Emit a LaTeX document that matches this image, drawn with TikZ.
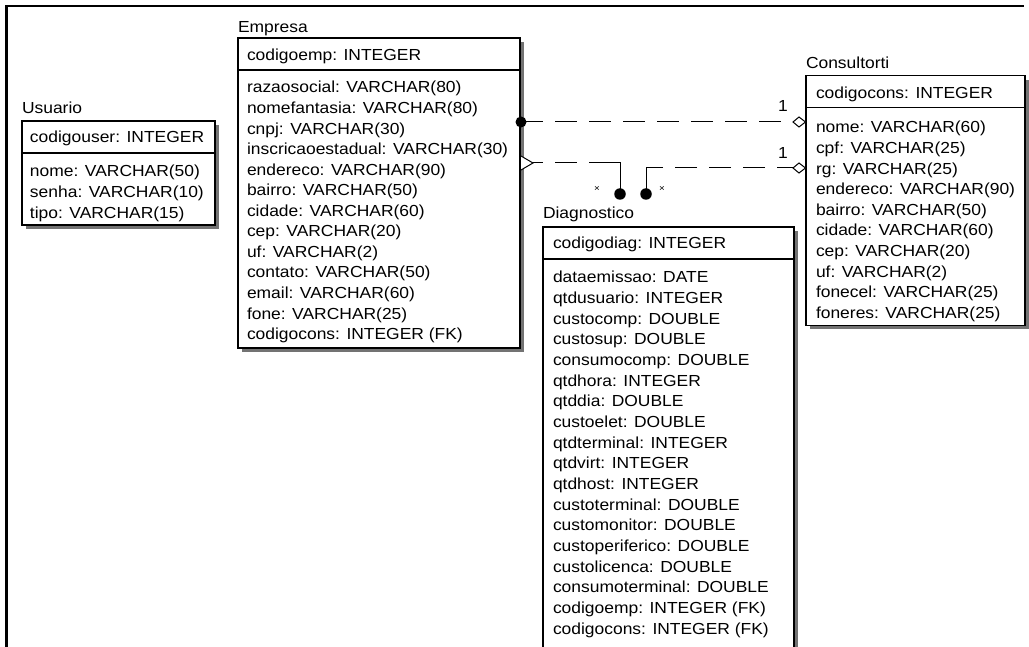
\documentclass[tikz,border=0pt]{standalone}
\usepackage{fontspec}
\setmainfont{Liberation Sans}[FakeStretch=1.09]
\usetikzlibrary{calc}
\begin{document}
\begin{tikzpicture}[x=1pt,y=-1pt,
  every node/.style={inner sep=0pt,outer sep=0pt,font=\fontsize{16}{20}\selectfont},
  tbox/.style={draw=black,line width=1.1pt,fill=white,rectangle,anchor=north west},
  shad/.style={fill=black!55},
  txt/.style={anchor=base west},
  conn/.style={line width=1pt,dash pattern=on 22pt off 12pt},
  solidconn/.style={line width=1pt},
  fdot/.style={circle,fill=black,minimum size=11.5pt},
  mult/.style={font=\fontsize{9}{9}\selectfont,anchor=center}
]
\useasboundingbox (0,0) rectangle (1029,647);
% frame
\draw[line width=2.4pt] (6.5,647) -- (6.5,5.8) -- (1024,5.8);

% ---------- Usuario ----------
\fill[shad] (215,125) rectangle (219,229);
\fill[shad] (26,225) rectangle (219,229);
\node[tbox,minimum width=193pt,minimum height=104pt] (usu) at (22,121) {};
\draw[line width=1.1pt] (22,153) -- (215,153);
\node[txt] (usut) at (22,114) {Usuario};
\node[txt] (usuh) at (30,143) {codigouser: INTEGER};
\foreach \t [count=\i from 0] in {nome: VARCHAR(50),senha: VARCHAR(10),tipo: VARCHAR(15)}
  \node[txt] (usur\i) at (30,177+20.6*\i) {\t};

% ---------- Empresa ----------
\fill[shad] (520,42) rectangle (524,352);
\fill[shad] (242,348) rectangle (524,352);
\node[tbox,minimum width=282pt,minimum height=310pt] (emp) at (238,38) {};
\draw[line width=1.1pt] (238,70) -- (520,70);
\node[txt] (empt) at (238,33) {Empresa};
\node[txt] (emph) at (247,61) {codigoemp: INTEGER};
\foreach \t [count=\i from 0] in {razaosocial: VARCHAR(80),nomefantasia: VARCHAR(80),cnpj: VARCHAR(30),inscricaoestadual: VARCHAR(30),endereco: VARCHAR(90),bairro: VARCHAR(50),cidade: VARCHAR(60),cep: VARCHAR(20),uf: VARCHAR(2),contato: VARCHAR(50),email: VARCHAR(60),fone: VARCHAR(25),codigocons: INTEGER (FK)}
  \node[txt] (empr\i) at (247,93+20.55*\i) {\t};

% ---------- Consultorti ----------
\fill[shad] (1025,80) rectangle (1029,329);
\fill[shad] (810,325) rectangle (1029,329);
\node[tbox,minimum width=219pt,minimum height=250pt] (cons) at (806,75.5) {};
\draw[line width=1.1pt] (806,107.5) -- (1025,107.5);
\node[txt] (const) at (806,69) {Consultorti};
\node[txt] (consh) at (816,99) {codigocons: INTEGER};
\foreach \t [count=\i from 0] in {nome: VARCHAR(60),cpf: VARCHAR(25),rg: VARCHAR(25),endereco: VARCHAR(90),bairro: VARCHAR(50),cidade: VARCHAR(60),cep: VARCHAR(20),uf: VARCHAR(2),fonecel: VARCHAR(25),foneres: VARCHAR(25)}
  \node[txt] (consr\i) at (816,133+20.6*\i) {\t};

% ---------- Diagnostico ----------
\fill[shad] (794,231) rectangle (798,670);
\node[tbox,minimum width=251pt,minimum height=440pt] (diag) at (543,227) {};
\draw[line width=1.1pt] (543,259) -- (794,259);
\node[txt] (diagt) at (543,219) {Diagnostico};
\node[txt] (diagh) at (553,249) {codigodiag: INTEGER};
\foreach \t [count=\i from 0] in {dataemissao: DATE,qtdusuario: INTEGER,custocomp: DOUBLE,custosup: DOUBLE,consumocomp: DOUBLE,qtdhora: INTEGER,qtddia: DOUBLE,custoelet: DOUBLE,qtdterminal: INTEGER,qtdvirt: INTEGER,qtdhost: INTEGER,custoterminal: DOUBLE,customonitor: DOUBLE,custoperiferico: DOUBLE,custolicenca: DOUBLE,consumoterminal: DOUBLE,codigoemp: INTEGER (FK),codigocons: INTEGER (FK)}
  \node[txt] (diagr\i) at (553,283+20.65*\i) {\t};

% ---------- connectors ----------
\coordinate (e1) at (521,122);
\coordinate (e2) at (521,163);
\coordinate (c1) at (799,122);
\coordinate (c2) at (799,168);
\coordinate (k1) at (620,163);
\coordinate (k2) at (646,168);
\node[fdot] (d1) at (620,194) {};
\node[fdot] (d2) at (646,194) {};

% Empresa -- Consultorti
\draw[conn] (e1) -- (c1);
\fill (e1) circle (5.5pt);
\draw[line width=1pt,fill=white] (793,122) -- (799,117) -- (805.5,122) -- (799,127) -- cycle;
\node (one1) at (783,106) {1};

% Empresa -- Diagnostico
\draw[conn] (e2) -- (k1);
\draw[solidconn] (611,163) -- (k1) -- (d1.center);
\draw[line width=1pt,fill=white] (521,156) -- (533,163) -- (521,170);
\node[mult] (m1) at (597,189) {×};

% Consultorti -- Diagnostico
\draw[conn] (c2) -- (k2);
\draw[solidconn] (652,168) -- (k2) -- (d2.center);
\draw[line width=1pt,fill=white] (793,168) -- (799,163) -- (805.5,168) -- (799,173) -- cycle;
\node (one2) at (783,153) {1};
\node[mult] (m2) at (662,189) {×};
\end{tikzpicture}
\end{document}
